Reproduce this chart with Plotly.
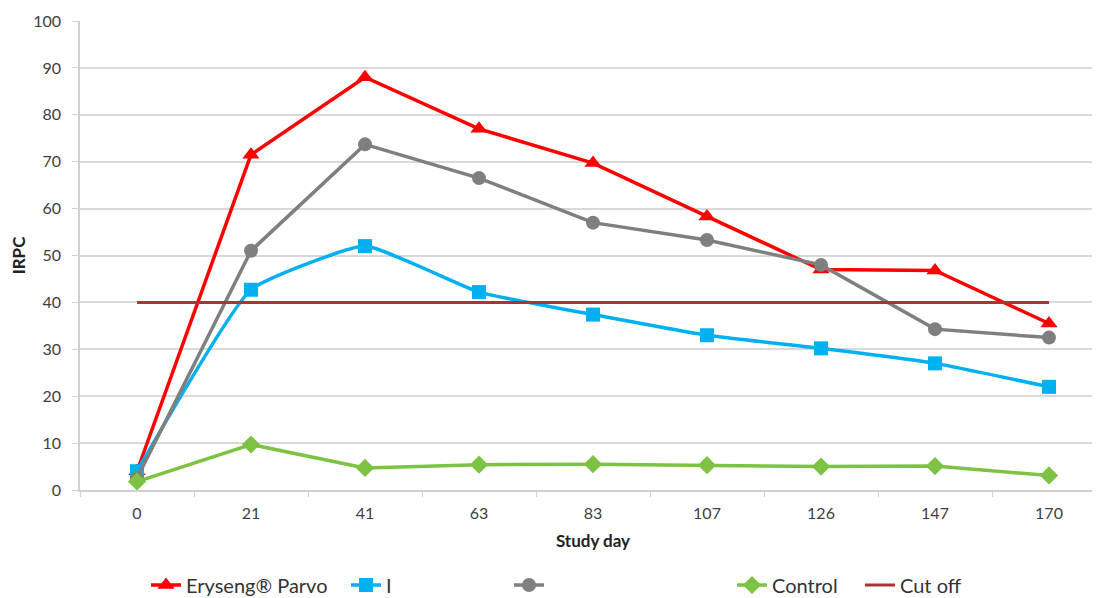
import plotly.graph_objects as go

days = ["0", "21", "41", "63", "83", "107", "126", "147", "170"]
eryseng = [4.0, 71.5, 88.0, 77.0, 69.7, 58.3, 47.0, 46.8, 35.5]
blue_series = [4.0, 42.7, 52.0, 42.2, 37.4, 33.0, 30.2, 27.0, 22.0]
gray_series = [2.5, 51.0, 73.7, 66.5, 57.0, 53.3, 48.0, 34.3, 32.5]
control = [1.8, 9.7, 4.7, 5.4, 5.5, 5.3, 5.0, 5.1, 3.1]
cutoff = [40, 40, 40, 40, 40, 40, 40, 40, 40]

names = ["Eryseng\u00ae Parvo", "I", " ", "Control", "Cut off"]
FONT = "Lato"
W, H = 1100, 598

fig = go.Figure()
fig.add_trace(go.Scatter(x=days, y=eryseng, name=names[0], mode="lines+markers",
                         line=dict(color="#FF0000", width=3.5),
                         marker=dict(symbol="triangle-up", size=15, color="#FF0000"),
                         legend="legend"))
fig.add_trace(go.Scatter(x=days, y=blue_series, name=names[1], mode="lines+markers",
                         line=dict(color="#00B0F0", width=3.5, shape="spline", smoothing=0.4),
                         marker=dict(symbol="square", size=14, color="#00B0F0"),
                         legend="legend2"))
fig.add_trace(go.Scatter(x=days, y=gray_series, name=names[2], mode="lines+markers",
                         line=dict(color="#7F7F7F", width=3.5),
                         marker=dict(symbol="circle", size=14, color="#7F7F7F"),
                         legend="legend3"))
fig.add_trace(go.Scatter(x=days, y=control, name=names[3], mode="lines+markers",
                         line=dict(color="#7DC242", width=3.5),
                         marker=dict(symbol="diamond", size=14, color="#7DC242"),
                         legend="legend4"))
fig.add_trace(go.Scatter(x=days, y=cutoff, name=names[4], mode="lines",
                         line=dict(color="#A93434", width=3),
                         legend="legend5"))

legend_px = [152, 352, 515, 738, 866]
leg_common = dict(xref="container", yref="container", yanchor="middle", xanchor="left",
                  orientation="h", font=dict(family=FONT, size=20, color="#333333"),
                  bgcolor="rgba(0,0,0,0)", itemwidth=30)
legends = {}
for i, px in enumerate(legend_px):
    key = "legend" if i == 0 else f"legend{i+1}"
    legends[key] = dict(x=(px - 14) / W, y=1 - 577 / H, **leg_common)

fig.update_layout(
    width=W, height=H,
    margin=dict(l=72, r=2, t=13, b=116, autoexpand=False),
    plot_bgcolor="white", paper_bgcolor="white",
    font=dict(family=FONT, color="#404040"),
    showlegend=True,
    **legends,
)
fig.update_xaxes(
    type="category", range=[-0.5, 8.5], automargin=False,
    showgrid=False, showline=True, linecolor="#D0D0D0", linewidth=1.5,
    ticks="outside", ticklen=5, tickcolor="#D0D0D0", tickson="boundaries",
    ticklabelstandoff=8,
    tickfont=dict(family=FONT, size=16, color="#404040"),
    title=dict(text="<b>Study day</b>", font=dict(family=FONT, size=17, color="#222222"), standoff=14),
)
fig.update_yaxes(
    range=[0, 100], dtick=10, automargin=False,
    showgrid=True, gridcolor="#D9D9D9", gridwidth=1.5,
    showline=True, linecolor="#D0D0D0", linewidth=1.5,
    ticks="outside", ticklen=6, tickcolor="#D0D0D0",
    ticklabelstandoff=8,
    zeroline=False,
    tickfont=dict(family=FONT, size=16, color="#404040"),
    title=dict(text="<b>IRPC</b>", font=dict(family=FONT, size=17, color="#222222"), standoff=12),
)

fig.write_html("out.html")
